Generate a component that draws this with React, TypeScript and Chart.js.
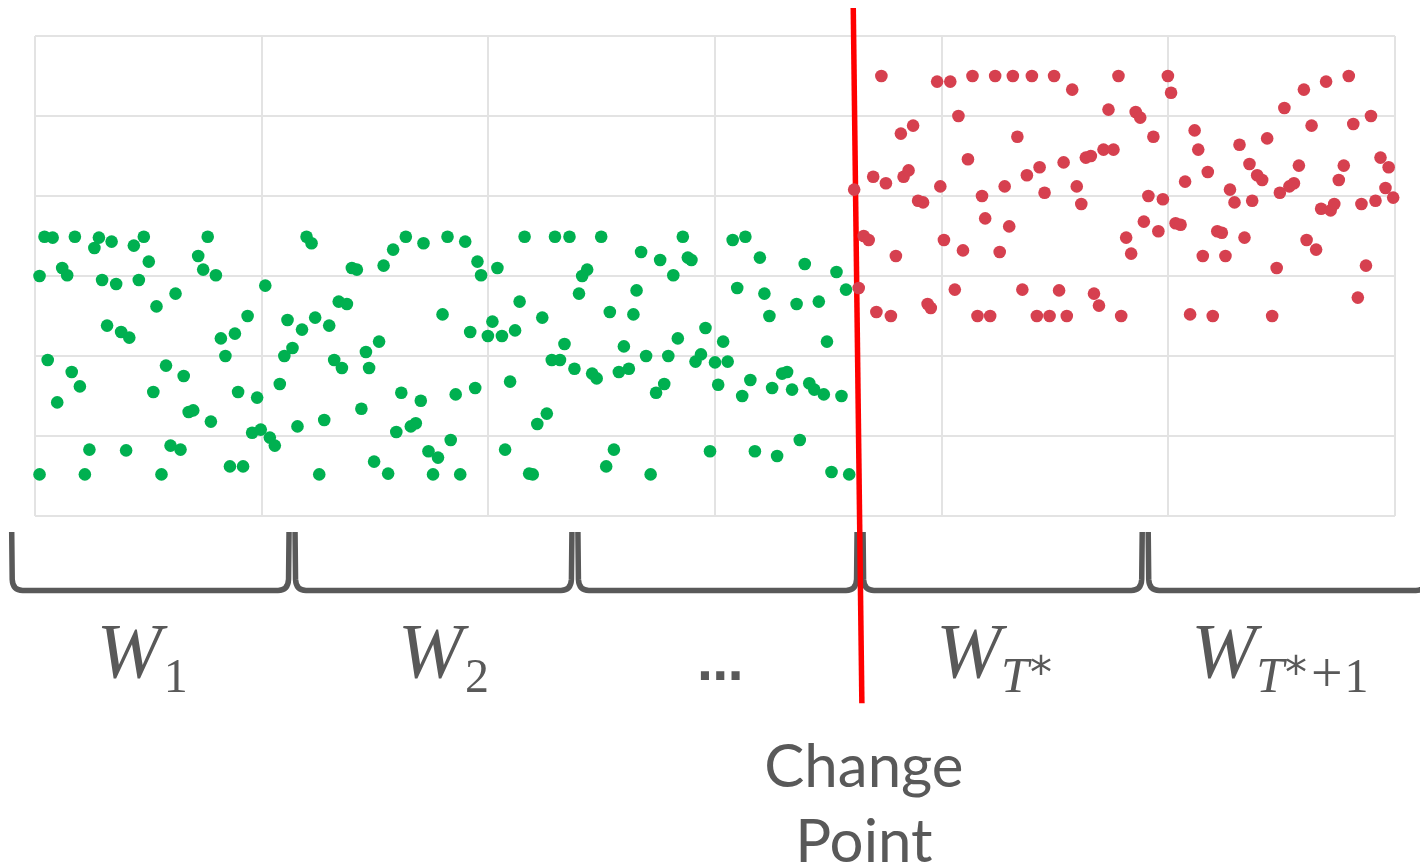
import React, { useEffect, useRef } from "react";
import { Chart, registerables } from "chart.js";

Chart.register(...registerables);

// ---------- DATA ----------
// Time index (x) and observed value (y) before the change point
const greenSeries: [number, number][] = [
  [2.1, 34.9], [3.9, 34.8], [8.8, 34.9], [14.1, 34.8], [13.1, 33.5], [16.9, 34.3], [21.8, 33.8], [24.0, 34.9],
  [25.1, 31.8], [36.0, 32.5], [38.1, 34.9], [37.1, 30.8], [39.9, 30.1], [1.0, 30.0], [6.0, 31.0], [7.1, 30.1],
  [14.8, 29.5], [17.9, 29.0], [22.9, 29.5], [31.0, 27.8], [50.8, 28.8], [59.9, 34.9], [61.0, 34.1], [69.9, 31.0],
  [71.0, 30.8], [76.9, 31.3], [79.0, 33.3], [81.8, 34.9], [85.7, 34.1], [91.0, 34.9], [94.9, 34.3], [97.6, 31.8],
  [98.4, 30.1], [26.8, 26.2], [67.0, 26.8], [68.8, 26.5], [15.9, 23.8], [19.0, 23.0], [20.8, 22.3], [46.9, 25.0],
  [44.1, 22.8], [41.0, 22.2], [42.0, 20.0], [55.7, 24.5], [58.9, 23.3], [61.8, 24.8], [64.9, 23.8], [56.8, 21.0],
  [55.0, 20.0], [89.9, 25.2], [96.0, 23.0], [73.0, 20.5], [75.9, 21.8], [66.0, 19.5], [67.7, 18.5], [73.7, 18.5],
  [2.8, 19.5], [8.1, 18.0], [9.9, 16.2], [4.9, 14.2], [28.9, 18.8], [32.8, 17.5], [26.1, 15.5], [44.8, 15.5],
  [49.0, 14.8], [54.0, 16.5], [33.9, 13.0], [34.9, 13.2], [38.8, 11.8], [47.9, 10.4], [49.8, 10.8], [51.8, 9.8],
  [52.9, 8.8], [57.9, 11.2], [63.8, 12.0], [72.0, 13.4], [80.8, 15.4], [85.1, 14.4], [92.8, 15.2], [97.1, 16.0],
  [79.7, 10.5], [82.9, 11.2], [84.0, 11.6], [91.7, 9.5], [86.8, 8.1], [88.9, 7.3], [74.8, 6.8], [77.9, 5.3],
  [87.8, 5.2], [93.8, 5.2], [62.7, 5.2], [12.0, 8.3], [20.1, 8.2], [29.9, 8.8], [32.1, 8.3], [43.0, 6.2],
  [45.9, 6.2], [1.0, 5.2], [11.0, 5.2], [27.9, 5.2],
  [108.0, 34.9], [114.7, 34.9], [117.9, 34.9], [124.9, 34.9], [133.7, 33.0], [137.9, 32.0], [140.8, 30.1],
  [142.9, 34.9], [144.0, 32.3], [144.8, 32.0], [120.7, 30.0], [121.8, 30.8], [120.0, 27.8], [132.7, 28.2],
  [153.9, 34.5], [156.7, 34.9], [159.9, 32.3], [154.9, 28.5], [160.9, 27.8], [169.8, 31.5], [176.8, 30.5],
  [178.9, 28.3], [102.0, 31.0], [106.9, 26.8], [126.8, 25.5], [132.0, 25.2], [111.9, 24.8], [162.0, 25.0],
  [168.0, 26.5], [172.9, 26.8], [174.7, 21.8], [100.9, 24.3], [99.9, 22.5], [103.0, 22.5], [105.9, 23.2],
  [116.8, 21.5], [114.0, 19.5], [115.8, 19.5], [119.0, 18.4], [122.9, 17.8], [123.9, 17.2], [129.9, 21.2],
  [128.8, 18.0], [131.0, 18.4], [134.8, 20.0], [139.7, 20.0], [141.8, 22.2], [147.9, 23.5], [146.9, 20.2],
  [145.7, 19.3], [150.0, 19.2], [151.8, 21.8], [152.8, 19.3], [150.7, 16.4], [157.8, 17.0], [156.0, 15.0],
  [162.6, 16.0], [164.8, 17.8], [165.9, 18.0], [167.0, 15.8], [170.8, 16.6], [171.9, 15.8], [174.0, 15.2],
  [177.9, 15.0], [104.8, 16.8], [138.8, 16.5], [137.0, 15.4], [112.9, 12.8], [110.8, 11.5], [103.7, 8.3],
  [109.0, 5.3], [109.8, 5.2], [127.7, 8.3], [126.0, 6.2], [135.8, 5.2], [148.9, 8.1], [158.8, 8.1],
  [163.7, 7.5], [168.7, 9.5], [175.7, 5.5], [179.6, 5.2],
];

// Time index (x) and observed value (y) after the change point
const redSeries: [number, number][] = [
  [186.7, 55.0], [199.0, 54.3], [191.0, 47.8], [193.7, 48.8], [184.9, 42.4], [187.7, 41.6], [191.6, 42.4],
  [192.7, 43.2], [180.7, 40.8], [194.8, 39.4], [195.9, 39.2], [199.7, 41.2], [182.8, 35.0], [183.9, 34.5],
  [189.9, 32.5], [181.7, 28.5], [200.5, 34.5], [185.6, 25.5], [188.8, 25.0], [196.9, 26.5], [197.6, 26.0],
  [201.9, 54.3], [206.8, 55.0], [211.8, 55.0], [215.7, 55.0], [219.9, 55.0], [224.8, 55.0], [228.8, 53.3],
  [239.0, 55.0], [249.9, 55.0], [250.6, 52.9], [203.7, 50.0], [216.7, 47.4], [236.8, 50.8], [242.8, 50.5],
  [243.8, 49.8], [246.7, 47.4], [205.8, 44.6], [221.6, 43.6], [218.8, 42.6], [226.9, 44.2], [231.8, 44.8],
  [232.9, 45.0], [235.7, 45.8], [237.9, 45.8], [208.9, 40.0], [213.9, 41.2], [222.7, 40.4], [229.8, 41.2],
  [230.8, 39.0], [245.6, 40.0], [248.8, 39.6], [209.6, 37.2], [214.9, 36.2], [204.7, 33.2], [212.8, 33.0],
  [240.7, 34.8], [241.8, 32.8], [244.6, 36.8], [247.8, 35.6], [251.6, 36.6], [252.7, 36.4], [202.9, 28.3],
  [217.8, 28.3], [225.9, 28.2], [233.6, 27.8], [255.8, 48.2], [256.6, 45.8], [258.7, 43.0], [253.7, 41.8],
  [257.6, 32.5], [262.6, 32.5], [260.8, 35.6], [261.8, 35.4], [266.8, 34.8], [263.6, 40.8], [264.6, 39.2],
  [265.7, 46.4], [267.9, 44.0], [269.6, 42.6], [270.7, 42.0], [268.5, 39.4], [271.8, 47.2], [273.9, 31.0],
  [274.6, 40.4], [276.7, 41.2], [277.7, 41.6], [278.8, 43.8], [275.6, 51.0], [279.9, 53.3], [284.8, 54.3],
  [289.8, 55.0], [281.6, 48.8], [280.5, 34.5], [282.6, 33.3], [283.7, 38.4], [285.8, 38.2], [286.6, 39.0],
  [287.6, 42.0], [288.7, 43.8], [290.8, 49.0], [294.7, 50.0], [292.6, 39.0], [295.7, 39.4], [296.8, 44.8],
  [298.6, 43.6], [297.9, 41.0], [299.6, 39.8], [293.6, 31.3], [291.8, 27.3], [234.7, 26.3], [207.9, 25.0],
  [210.7, 25.0], [221.0, 25.0], [223.8, 25.0], [227.6, 25.0], [239.6, 25.0], [254.8, 25.2], [259.8, 25.0],
  [272.9, 25.0],
];

// Axis ranges / grid steps
const xRange = [0, 300];
const xStep = 50;
const yRange = [0, 60];
const yStep = 10;

// Window boundaries (x, time index) for the braces under the plot
const windowEdges = [-5.8, 56.7, 119.1, 182.0, 244.9, 307.7];
// Window labels: [text, style]
const windowLabels: [string, string][][] = [
  [["W", "main"], ["1", "subU"]],
  [["W", "main"], ["2", "subU"]],
  [["\u2026", "dots"]],
  [["W", "main"], ["T", "subI"], ["*", "star"]],
  [["W", "main"], ["T", "subI"], ["*", "star"], ["+", "plus"], ["1", "subU"]],
];
const labelShift = [-1.8, 2.2, 0.6, -1.9, -1.7];

// Change point line (x, y endpoints in data units)
const changeLineX = [180.5, 182.4];
const changeLineY = [63.5, -23.4];
const changeText = ["Change", "Point"];

// ---------- STYLE ----------
const GREEN = "#00B050";
const RED = "#D6404F";
const GRID = "#E3E3E3";
const GREY = "#595959";

const braceTopY = -2.0;
const braceBottomY = -9.3;
const labelBaseY = -20.1;
const changeTextY = [-33.9, -43.2];

const labelStyles: Record<string, { font: string; dy: number; pre: number }> = {
  main: { font: 'italic 78px "Liberation Serif"', dy: 0, pre: 0 },
  subI: { font: 'italic 50px "Liberation Serif"', dy: 15, pre: 0 },
  subU: { font: '48px "Liberation Serif"', dy: 15, pre: 2 },
  star: { font: '44px "DejaVu Sans"', dy: 11, pre: 1 },
  plus: { font: '56px "Liberation Serif"', dy: 15, pre: 4 },
  dots: { font: 'bold 46px "DejaVu Sans"', dy: 3, pre: 0 },
};

const overlayPlugin = {
  id: "overlay",
  beforeDatasetsDraw(chart: any) {
    const { ctx, scales } = chart;
    const x = scales.x;
    const y = scales.y;
    ctx.save();
    // braces
    const yT = y.getPixelForValue(braceTopY);
    const yB = y.getPixelForValue(braceBottomY);
    ctx.strokeStyle = GREY;
    ctx.lineWidth = 5.5;
    ctx.lineJoin = "round";
    ctx.lineCap = "butt";
    for (let i = 0; i < windowEdges.length - 1; i++) {
      const xa = x.getPixelForValue(windowEdges[i]);
      const xb = x.getPixelForValue(windowEdges[i + 1]);
      ctx.beginPath();
      ctx.moveTo(xa + 3, yT);
      ctx.lineTo(xa + 3.5, yB - 11);
      ctx.quadraticCurveTo(xa + 4, yB, xa + 14, yB);
      ctx.lineTo(xb - 14, yB);
      ctx.quadraticCurveTo(xb - 4, yB, xb - 3.5, yB - 11);
      ctx.lineTo(xb - 3, yT);
      ctx.stroke();
    }
    // change line
    ctx.strokeStyle = "#FF0000";
    ctx.lineWidth = 5.5;
    ctx.beginPath();
    ctx.moveTo(x.getPixelForValue(changeLineX[0]), y.getPixelForValue(changeLineY[0]));
    ctx.lineTo(x.getPixelForValue(changeLineX[1]), y.getPixelForValue(changeLineY[1]));
    ctx.stroke();
    ctx.restore();
  },
  afterDraw(chart: any) {
    const { ctx, scales } = chart;
    const x = scales.x;
    const y = scales.y;
    ctx.save();
    ctx.fillStyle = GREY;
    ctx.textBaseline = "alphabetic";
    ctx.textAlign = "left";
    const base = y.getPixelForValue(labelBaseY);
    windowLabels.forEach((parts, i) => {
      const center = x.getPixelForValue((windowEdges[i] + windowEdges[i + 1]) / 2 + labelShift[i]);
      let total = 0;
      const widths = parts.map(([t, s], k) => {
        ctx.font = labelStyles[s].font;
        const w = ctx.measureText(t).width + (k > 0 ? labelStyles[s].pre : 0);
        total += w;
        return w;
      });
      let cx = center - total / 2;
      parts.forEach(([t, s], k) => {
        const st = labelStyles[s];
        ctx.font = st.font;
        const pre = k > 0 ? st.pre : 0;
        ctx.fillText(t, cx + pre, base + st.dy);
        cx += widths[k];
      });
    });
    // change point caption
    ctx.textAlign = "center";
    ctx.font = '60px Lato, "Noto Sans", sans-serif';
    const cxp = x.getPixelForValue(changeLineX[1]) + 2;
    changeText.forEach((t, i) => {
      ctx.fillText(t, cxp, y.getPixelForValue(changeTextY[i]));
    });
    ctx.restore();
  },
};

export default function App() {
  const ref = useRef<HTMLCanvasElement>(null);
  useEffect(() => {
    const canvas = ref.current;
    if (!canvas) return;
    const chart = new Chart(canvas, {
      type: "scatter",
      data: {
        datasets: [
          {
            label: "before",
            data: greenSeries.map(([px, py]) => ({ x: px, y: py })),
            backgroundColor: GREEN,
            borderColor: GREEN,
            pointRadius: 6.3,
            pointBorderWidth: 0,
            pointHoverRadius: 6.3,
            clip: false as any,
          },
          {
            label: "after",
            data: redSeries.map(([px, py]) => ({ x: px, y: py })),
            backgroundColor: RED,
            borderColor: RED,
            pointRadius: 6.3,
            pointBorderWidth: 0,
            pointHoverRadius: 6.3,
            clip: false as any,
          },
        ],
      },
      options: {
        animation: false,
        responsive: false,
        devicePixelRatio: 1,
        events: [],
        layout: { autoPadding: false, padding: { left: 35, top: 36, right: 25, bottom: 352 } },
        plugins: { legend: { display: false }, tooltip: { enabled: false } },
        scales: {
          x: {
            type: "linear",
            min: xRange[0],
            max: xRange[1],
            ticks: { display: false, stepSize: xStep },
            grid: { color: GRID, lineWidth: 2, drawTicks: false },
            border: { display: false },
          },
          y: {
            type: "linear",
            min: yRange[0],
            max: yRange[1],
            ticks: { display: false, stepSize: yStep },
            grid: { color: GRID, lineWidth: 2, drawTicks: false },
            border: { display: false },
          },
        },
      },
      plugins: [overlayPlugin],
    });
    return () => chart.destroy();
  }, []);
  return (
    <div style={{ position: "fixed", left: 0, top: 0, width: 1420, height: 868, background: "#fff" }}>
      <canvas ref={ref} width={1420} height={868} style={{ display: "block", width: 1420, height: 868 }} />
    </div>
  );
}
